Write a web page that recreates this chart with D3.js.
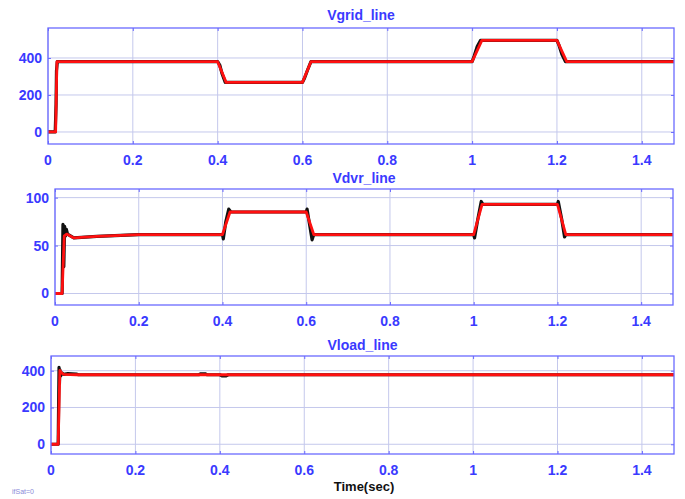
<!DOCTYPE html>
<html>
<head>
<meta charset="utf-8">
<script src="https://cdn.jsdelivr.net/npm/d3@7"></script>
<style>
    body { margin: 0; background: #fff; }
    .tick-label { font-family: "Liberation Sans", Arial, sans-serif; font-weight: bold; font-size: 14px; fill: #3a3aff; }
    .title { font-family: "Liberation Sans", Arial, sans-serif; font-weight: bold; font-size: 14px; fill: #3a3aff; }
</style>
</head>
<body>
<div class="chart"></div>
<script>
// x tick labels shared by all three panels
const xTicks = [0, 0.2, 0.4, 0.6, 0.8, 1, 1.2, 1.4];
const xMax = 1.476;

// Vgrid_line
const vgridRefT = [0, 0.018, 0.021, 0.4, 0.42, 0.6, 0.62, 1.0, 1.023, 1.2, 1.223, 1.476];
const vgridRefV = [0, 0, 380, 380, 268, 268, 380, 380, 495, 495, 380, 380];
const vgridMeasT = [0, 0.017, 0.019, 0.02, 0.022, 0.4, 0.405, 0.41, 0.418, 0.6, 0.605, 0.612, 0.62, 1.0, 1.005, 1.012, 1.02, 1.2, 1.205, 1.212, 1.22, 1.476];
const vgridMeasV = [0, 0, 150, 330, 380, 380, 362, 318, 268, 268, 292, 335, 380, 380, 412, 462, 495, 495, 468, 418, 380, 380];
const vgridTicks = [0, 200, 400];

// Vdvr_line
const vdvrRefT = [0, 0.017, 0.022, 0.028, 0.045, 0.1, 0.2, 0.4, 0.418, 0.6, 0.618, 1.0, 1.02, 1.2, 1.22, 1.476];
const vdvrRefV = [0, 0, 60, 62, 58, 59.5, 61.5, 61.5, 85, 85, 61.5, 61.5, 93, 93, 61.5, 61.5];
const vdvrMeasT = [0, 0.017, 0.019, 0.021, 0.023, 0.025, 0.027, 0.03, 0.045, 0.1, 0.2, 0.4, 0.402, 0.408, 0.415, 0.42, 0.6, 0.602, 0.608, 0.614, 0.618, 1.0, 1.002, 1.01, 1.018, 1.022, 1.2, 1.202, 1.21, 1.217, 1.22, 1.476];
const vdvrMeasV = [0, 0, 72, 28, 70, 60, 67, 62, 58, 59.5, 61.5, 61.5, 57, 75, 88, 85, 85, 88, 72, 56, 61.5, 61.5, 58, 78, 96, 93, 93, 96, 78, 59, 61.5, 61.5];
const vdvrTicks = [0, 50, 100];

// Vload_line
const vloadRefT = [0, 0.017, 0.021, 0.025, 0.03, 0.06, 1.476];
const vloadRefV = [0, 0, 402, 388, 380, 378, 378];
const vloadMeasT = [0, 0.017, 0.019, 0.02, 0.021, 0.023, 0.026, 0.03, 0.04, 0.06, 0.065, 0.35, 0.355, 0.365, 0.37, 0.4, 0.405, 0.415, 0.42, 1.476];
const vloadMeasV = [0, 0, 418, 330, 405, 372, 388, 380, 384, 382, 378, 378, 383, 383, 378, 378, 372, 372, 378, 378];
const vloadTicks = [0, 200, 400];

const W = 685, H = 499;

const svg = d3.select('.chart')
    .append('svg')
    .attr('width', W)
    .attr('height', H);

function drawPanel(p) {
    const xScale = d3.scaleLinear().domain([0, xMax]).range([p.left, p.right]);
    const yScale = d3.scaleLinear().domain(p.yDomain).range([p.bottom, p.top]);

    const g = svg.append('g');

    // grid
    g.selectAll('.vgrid')
        .data(xTicks)
        .enter()
        .append('line')
        .attr('x1', d => xScale(d)).attr('x2', d => xScale(d))
        .attr('y1', p.top).attr('y2', p.bottom)
        .attr('stroke', '#c4c8ec').attr('stroke-width', 1);

    g.selectAll('.hgrid')
        .data(p.yTicks)
        .enter()
        .append('line')
        .attr('x1', p.left).attr('x2', p.right)
        .attr('y1', d => yScale(d)).attr('y2', d => yScale(d))
        .attr('stroke', '#c4c8ec').attr('stroke-width', 1);

    // axes, ticks pointing inward on all four sides
    const axisStyle = sel => {
        sel.select('.domain').remove();
        sel.selectAll('line').attr('stroke', '#6a6aff');
        sel.selectAll('text').remove();
    };
    g.append('g').attr('transform', 'translate(0,' + p.bottom + ')')
        .call(d3.axisBottom(xScale).tickValues(xTicks).tickSize(-3)).call(axisStyle);
    g.append('g').attr('transform', 'translate(0,' + p.top + ')')
        .call(d3.axisTop(xScale).tickValues(xTicks).tickSize(-3)).call(axisStyle);
    g.append('g').attr('transform', 'translate(' + p.left + ',0)')
        .call(d3.axisLeft(yScale).tickValues(p.yTicks).tickSize(-3)).call(axisStyle);
    g.append('g').attr('transform', 'translate(' + p.right + ',0)')
        .call(d3.axisRight(yScale).tickValues(p.yTicks).tickSize(-3)).call(axisStyle);

    // tick labels
    g.selectAll('.xl')
        .data(xTicks)
        .enter()
        .append('text')
        .attr('class', 'tick-label')
        .attr('x', d => xScale(d))
        .attr('y', p.bottom + 21)
        .attr('text-anchor', 'middle')
        .text(d => d);

    g.selectAll('.yl')
        .data(p.yTicks)
        .enter()
        .append('text')
        .attr('class', 'tick-label')
        .attr('x', p.left - 6)
        .attr('y', d => yScale(d) + 5)
        .attr('text-anchor', 'end')
        .text(d => d);

    // series
    const line = d3.line().x(d => xScale(d[0])).y(d => yScale(d[1]));
    const meas = d3.zip(p.measT, p.measV);
    const ref = d3.zip(p.refT, p.refV);

    g.append('path').datum(meas)
        .attr('d', line).attr('fill', 'none')
        .attr('stroke', '#111').attr('stroke-width', 3.2)
        .attr('stroke-linejoin', 'round');

    g.append('path').datum(ref)
        .attr('d', line).attr('fill', 'none')
        .attr('stroke', '#ff1010').attr('stroke-width', 2.8)
        .attr('stroke-linejoin', 'round');

    // box
    g.append('rect')
        .attr('x', p.left).attr('y', p.top)
        .attr('width', p.right - p.left).attr('height', p.bottom - p.top)
        .attr('fill', 'none').attr('stroke', '#6a6aff').attr('stroke-width', 1.3);

    g.append('text')
        .attr('class', 'title')
        .attr('x', (p.left + p.right) / 2)
        .attr('y', p.titleY)
        .attr('text-anchor', 'middle')
        .text(p.title);
}

drawPanel({ title: 'Vgrid_line', titleY: 20, left: 48, right: 674, top: 28, bottom: 144,
    yDomain: [-65, 562], yTicks: vgridTicks,
    refT: vgridRefT, refV: vgridRefV, measT: vgridMeasT, measV: vgridMeasV });

drawPanel({ title: 'Vdvr_line', titleY: 183, left: 55, right: 673, top: 189, bottom: 305,
    yDomain: [-12, 109], yTicks: vdvrTicks,
    refT: vdvrRefT, refV: vdvrRefV, measT: vdvrMeasT, measV: vdvrMeasV });

drawPanel({ title: 'Vload_line', titleY: 350, left: 51, right: 674, top: 356, bottom: 454,
    yDomain: [-53, 480], yTicks: vloadTicks,
    refT: vloadRefT, refV: vloadRefV, measT: vloadMeasT, measV: vloadMeasV });

svg.append('text')
    .attr('x', 364)
    .attr('y', 491)
    .attr('text-anchor', 'middle')
    .style('font-family', '"Liberation Sans", Arial, sans-serif')
    .style('font-weight', 'bold')
    .style('font-size', '13px')
    .attr('fill', '#111')
    .text('Time(sec)');

svg.append('text')
    .attr('x', 12)
    .attr('y', 494)
    .style('font-family', '"Liberation Sans", Arial, sans-serif')
    .style('font-size', '7px')
    .attr('fill', '#8a8ad8')
    .text('ifSat=0');
</script>
</body>
</html>
